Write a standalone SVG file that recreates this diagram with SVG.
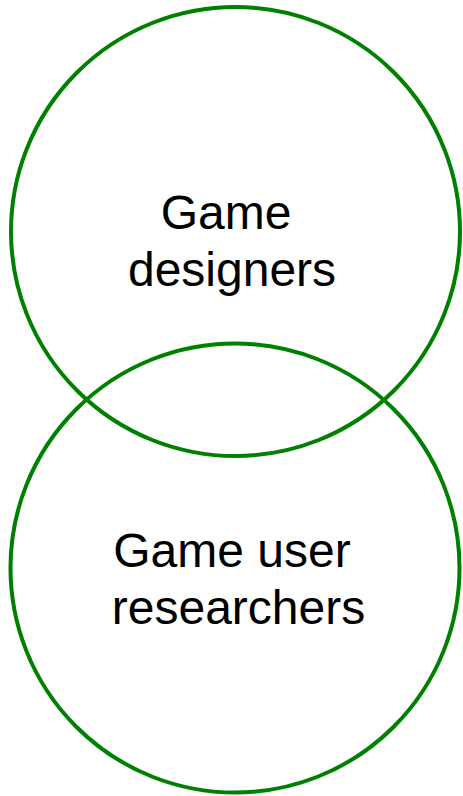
<svg xmlns="http://www.w3.org/2000/svg" width="463" height="796" viewBox="0 0 463 796">
  <style>
    .ring { fill: none; stroke: #008000; stroke-width: 4; }
    .label { font-family: "Liberation Sans", Arial, sans-serif; font-size: 48px; fill: #000; text-anchor: middle; }
  </style>
  <rect width="463" height="796" fill="#fff"/>
  <g id="designers">
    <circle class="ring" cx="235.5" cy="231.5" r="224.5"/>
    <text class="label"><tspan x="226" y="229">Game</tspan><tspan x="232" y="286">designers</tspan></text>
  </g>
  <g id="researchers">
    <circle class="ring" cx="235" cy="568" r="224.5"/>
    <text class="label"><tspan x="232" y="567">Game user</tspan><tspan x="238.5" y="624">researchers</tspan></text>
  </g>
  <g id="connectors"/>
</svg>
